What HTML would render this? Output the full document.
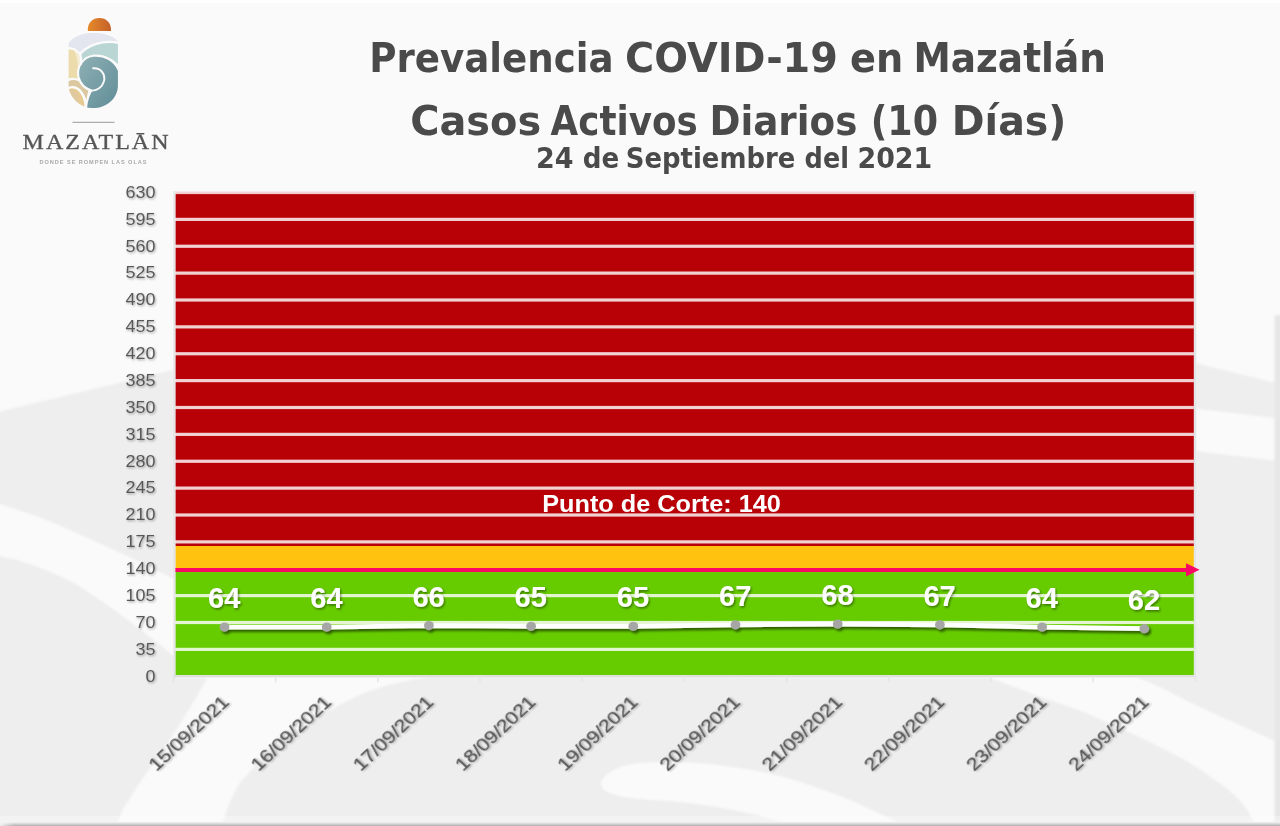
<!DOCTYPE html>
<html lang="es"><head><meta charset="utf-8"><title>Prevalencia COVID-19 en Mazatlán</title>
<style>html,body{margin:0;padding:0;background:#fafafa;overflow:hidden}svg{display:block}text{font-family:"Liberation Sans",sans-serif}.tt text{font-family:"DejaVu Sans","Liberation Sans",sans-serif}</style></head><body>
<svg width="1280" height="826" viewBox="0 0 1280 826">
<defs>
<filter id="ts" x="-20%" y="-20%" width="140%" height="160%"><feDropShadow dx="1" dy="1.2" stdDeviation="0.9" flood-color="#000" flood-opacity="0.35"/></filter>
<filter id="ls" x="-5%" y="-300%" width="110%" height="700%"><feDropShadow dx="2" dy="2.5" stdDeviation="1.3" flood-color="#000" flood-opacity="0.55"/></filter>
<filter id="ws" x="-20%" y="-20%" width="140%" height="160%"><feDropShadow dx="1.2" dy="1.5" stdDeviation="1" flood-color="#000" flood-opacity="0.45"/></filter>
<filter id="bgb" filterUnits="userSpaceOnUse" x="-40" y="-40" width="1360" height="906"><feGaussianBlur stdDeviation="1.3"/></filter>
<filter id="bl"><feGaussianBlur stdDeviation="1.2"/></filter>
<linearGradient id="gsea" x1="0" y1="0" x2="1" y2="1"><stop offset="0" stop-color="#8fb0b5"/><stop offset="1" stop-color="#5f8c96"/></linearGradient>
<linearGradient id="gsun" x1="0" y1="0" x2="1" y2="0"><stop offset="0" stop-color="#e58a2a"/><stop offset="1" stop-color="#c4602a"/></linearGradient>
</defs>
<rect width="1280" height="826" fill="#fafafa"/>
<g filter="url(#bgb)"><path d="M-30 418.8 L176 369 L176 580 C150 567 125 555 106.5 546.6 C85 537 65 528 53 522.6 C35 515 15 509 -30 495 Z" fill="#eeeeee"/>
<path d="M-30 551 L0 556 C30 562 60 575 80 586.5 C110 606 140 628 176 658 L176 678 L207 678 C200 692 190 708 179 725.6 C170 740 160 755 150 768 C140 782 130 798 123 809 L104 856 L-30 856 Z" fill="#eeeeee"/>
<path d="M431 677 C410 679 385 685 362 694 C335 706 300 728 280 742 C262 758 250 772 242 780 C232 795 225 810 214 856 L1262 856 L1255 826 C1253 820 1250 815 1247.5 810 C1240 800 1232 792 1222.5 785 C1210 776 1198 768 1185 760 C1168 751 1152 743 1135 735 C1118 727 1100 719 1085 712.5 C1068 706 1050 700 1035 695 C1020 689 1005 683 990 678 Z" fill="#eeeeee"/>
<path d="M601 783 C605 772 620 765 640 763 C665 761 690 762 710 764 C735 767 760 771 780 776 C805 783 830 792 850 800 C868 808 885 816 897 822 L897 826 L790 826 C780 821 760 815 728 809 C705 805 690 803 681 802 C660 800 640 800 625 797 C610 794 600 790 601 783 Z" fill="#fafafa"/>
<path d="M1135 677 L1195 677 L1195 451 L1310 465 L1310 757 C1295 750 1285 745 1272.5 740 C1255 732 1240 725 1222.5 717.5 C1210 712 1198 706 1185 700 C1172 693 1160 687 1150 682.5 Z" fill="#eeeeee"/>
<path d="M1195 363 L1274.5 382.5 L1274.5 418 L1195 408.6 Z" fill="#eeeeee"/>
<rect x="1274.5" y="315" width="36" height="571" fill="#e7e7e7"/></g>
<rect x="175.4" y="191.5" width="1018.5" height="354.5" fill="#b80007"/>
<rect x="175.4" y="546" width="1018.5" height="23" fill="#ffc20e"/>
<rect x="175.4" y="571" width="1018.5" height="104.0" fill="#66cc00"/>
<rect x="174.4" y="190.90" width="1019.5000000000001" height="3.2" fill="#fff" fill-opacity="0.82"/>
<rect x="174.4" y="217.78" width="1019.5000000000001" height="3.2" fill="#fff" fill-opacity="0.82"/>
<rect x="174.4" y="244.65" width="1019.5000000000001" height="3.2" fill="#fff" fill-opacity="0.82"/>
<rect x="174.4" y="271.52" width="1019.5000000000001" height="3.2" fill="#fff" fill-opacity="0.82"/>
<rect x="174.4" y="298.40" width="1019.5000000000001" height="3.2" fill="#fff" fill-opacity="0.82"/>
<rect x="174.4" y="325.27" width="1019.5000000000001" height="3.2" fill="#fff" fill-opacity="0.82"/>
<rect x="174.4" y="352.15" width="1019.5000000000001" height="3.2" fill="#fff" fill-opacity="0.82"/>
<rect x="174.4" y="379.02" width="1019.5000000000001" height="3.2" fill="#fff" fill-opacity="0.82"/>
<rect x="174.4" y="405.90" width="1019.5000000000001" height="3.2" fill="#fff" fill-opacity="0.82"/>
<rect x="174.4" y="432.77" width="1019.5000000000001" height="3.2" fill="#fff" fill-opacity="0.82"/>
<rect x="174.4" y="459.65" width="1019.5000000000001" height="3.2" fill="#fff" fill-opacity="0.82"/>
<rect x="174.4" y="486.52" width="1019.5000000000001" height="3.2" fill="#fff" fill-opacity="0.82"/>
<rect x="174.4" y="513.40" width="1019.5000000000001" height="3.2" fill="#fff" fill-opacity="0.82"/>
<rect x="174.4" y="540.27" width="1019.5000000000001" height="3.2" fill="#fff" fill-opacity="0.82"/>
<rect x="174.4" y="594.02" width="1019.5000000000001" height="3.2" fill="#fff" fill-opacity="0.82"/>
<rect x="174.4" y="620.90" width="1019.5000000000001" height="3.2" fill="#fff" fill-opacity="0.82"/>
<rect x="174.4" y="647.77" width="1019.5000000000001" height="3.2" fill="#fff" fill-opacity="0.82"/>
<rect x="173.4" y="191.0" width="2" height="486.75" fill="#e4e4e4"/>
<rect x="173.4" y="675.25" width="1021.5000000000001" height="2" fill="#dcdcdc"/>
<rect x="1193.9" y="191.0" width="2.4" height="486.75" fill="#e3e6e6"/>
<rect x="172.60" y="676.25" width="1.6" height="6" fill="#e6e6e6"/>
<rect x="274.80" y="676.25" width="1.6" height="6" fill="#e6e6e6"/>
<rect x="377.00" y="676.25" width="1.6" height="6" fill="#e6e6e6"/>
<rect x="479.20" y="676.25" width="1.6" height="6" fill="#e6e6e6"/>
<rect x="581.40" y="676.25" width="1.6" height="6" fill="#e6e6e6"/>
<rect x="683.60" y="676.25" width="1.6" height="6" fill="#e6e6e6"/>
<rect x="785.80" y="676.25" width="1.6" height="6" fill="#e6e6e6"/>
<rect x="888.00" y="676.25" width="1.6" height="6" fill="#e6e6e6"/>
<rect x="990.20" y="676.25" width="1.6" height="6" fill="#e6e6e6"/>
<rect x="1092.40" y="676.25" width="1.6" height="6" fill="#e6e6e6"/>
<rect x="1194.60" y="676.25" width="1.6" height="6" fill="#e6e6e6"/>
<rect x="175.4" y="568" width="1012.6" height="4" fill="#fb0766"/>
<path d="M1186 563.2 L1199.6 569.8 L1186 576.4 Z" fill="#fb0766"/>
<text x="155.4" y="197.80" text-anchor="end" font-size="16.7" fill="#595959" filter="url(#ts)" textLength="30" lengthAdjust="spacingAndGlyphs">630</text>
<text x="155.4" y="224.68" text-anchor="end" font-size="16.7" fill="#595959" filter="url(#ts)" textLength="30" lengthAdjust="spacingAndGlyphs">595</text>
<text x="155.4" y="251.55" text-anchor="end" font-size="16.7" fill="#595959" filter="url(#ts)" textLength="30" lengthAdjust="spacingAndGlyphs">560</text>
<text x="155.4" y="278.43" text-anchor="end" font-size="16.7" fill="#595959" filter="url(#ts)" textLength="30" lengthAdjust="spacingAndGlyphs">525</text>
<text x="155.4" y="305.30" text-anchor="end" font-size="16.7" fill="#595959" filter="url(#ts)" textLength="30" lengthAdjust="spacingAndGlyphs">490</text>
<text x="155.4" y="332.18" text-anchor="end" font-size="16.7" fill="#595959" filter="url(#ts)" textLength="30" lengthAdjust="spacingAndGlyphs">455</text>
<text x="155.4" y="359.05" text-anchor="end" font-size="16.7" fill="#595959" filter="url(#ts)" textLength="30" lengthAdjust="spacingAndGlyphs">420</text>
<text x="155.4" y="385.93" text-anchor="end" font-size="16.7" fill="#595959" filter="url(#ts)" textLength="30" lengthAdjust="spacingAndGlyphs">385</text>
<text x="155.4" y="412.80" text-anchor="end" font-size="16.7" fill="#595959" filter="url(#ts)" textLength="30" lengthAdjust="spacingAndGlyphs">350</text>
<text x="155.4" y="439.68" text-anchor="end" font-size="16.7" fill="#595959" filter="url(#ts)" textLength="30" lengthAdjust="spacingAndGlyphs">315</text>
<text x="155.4" y="466.55" text-anchor="end" font-size="16.7" fill="#595959" filter="url(#ts)" textLength="30" lengthAdjust="spacingAndGlyphs">280</text>
<text x="155.4" y="493.43" text-anchor="end" font-size="16.7" fill="#595959" filter="url(#ts)" textLength="30" lengthAdjust="spacingAndGlyphs">245</text>
<text x="155.4" y="520.30" text-anchor="end" font-size="16.7" fill="#595959" filter="url(#ts)" textLength="30" lengthAdjust="spacingAndGlyphs">210</text>
<text x="155.4" y="547.17" text-anchor="end" font-size="16.7" fill="#595959" filter="url(#ts)" textLength="30" lengthAdjust="spacingAndGlyphs">175</text>
<text x="155.4" y="574.05" text-anchor="end" font-size="16.7" fill="#595959" filter="url(#ts)" textLength="30" lengthAdjust="spacingAndGlyphs">140</text>
<text x="155.4" y="600.92" text-anchor="end" font-size="16.7" fill="#595959" filter="url(#ts)" textLength="30" lengthAdjust="spacingAndGlyphs">105</text>
<text x="155.4" y="627.80" text-anchor="end" font-size="16.7" fill="#595959" filter="url(#ts)" textLength="20" lengthAdjust="spacingAndGlyphs">70</text>
<text x="155.4" y="654.67" text-anchor="end" font-size="16.7" fill="#595959" filter="url(#ts)" textLength="20" lengthAdjust="spacingAndGlyphs">35</text>
<text x="155.4" y="681.55" text-anchor="end" font-size="16.7" fill="#595959" filter="url(#ts)" textLength="10" lengthAdjust="spacingAndGlyphs">0</text>
<text transform="translate(230.30 703.3) scale(1.037 0.965) rotate(-45)" x="0" y="0" text-anchor="end" font-size="17.6" fill="#565656" stroke="#565656" stroke-width="0.2" filter="url(#ts)" textLength="100.5" lengthAdjust="spacingAndGlyphs">15/09/2021</text>
<text transform="translate(332.50 703.3) scale(1.037 0.965) rotate(-45)" x="0" y="0" text-anchor="end" font-size="17.6" fill="#565656" stroke="#565656" stroke-width="0.2" filter="url(#ts)" textLength="100.5" lengthAdjust="spacingAndGlyphs">16/09/2021</text>
<text transform="translate(434.70 703.3) scale(1.037 0.965) rotate(-45)" x="0" y="0" text-anchor="end" font-size="17.6" fill="#565656" stroke="#565656" stroke-width="0.2" filter="url(#ts)" textLength="100.5" lengthAdjust="spacingAndGlyphs">17/09/2021</text>
<text transform="translate(536.90 703.3) scale(1.037 0.965) rotate(-45)" x="0" y="0" text-anchor="end" font-size="17.6" fill="#565656" stroke="#565656" stroke-width="0.2" filter="url(#ts)" textLength="100.5" lengthAdjust="spacingAndGlyphs">18/09/2021</text>
<text transform="translate(639.10 703.3) scale(1.037 0.965) rotate(-45)" x="0" y="0" text-anchor="end" font-size="17.6" fill="#565656" stroke="#565656" stroke-width="0.2" filter="url(#ts)" textLength="100.5" lengthAdjust="spacingAndGlyphs">19/09/2021</text>
<text transform="translate(741.30 703.3) scale(1.037 0.965) rotate(-45)" x="0" y="0" text-anchor="end" font-size="17.6" fill="#565656" stroke="#565656" stroke-width="0.2" filter="url(#ts)" textLength="100.5" lengthAdjust="spacingAndGlyphs">20/09/2021</text>
<text transform="translate(843.50 703.3) scale(1.037 0.965) rotate(-45)" x="0" y="0" text-anchor="end" font-size="17.6" fill="#565656" stroke="#565656" stroke-width="0.2" filter="url(#ts)" textLength="100.5" lengthAdjust="spacingAndGlyphs">21/09/2021</text>
<text transform="translate(945.70 703.3) scale(1.037 0.965) rotate(-45)" x="0" y="0" text-anchor="end" font-size="17.6" fill="#565656" stroke="#565656" stroke-width="0.2" filter="url(#ts)" textLength="100.5" lengthAdjust="spacingAndGlyphs">22/09/2021</text>
<text transform="translate(1047.90 703.3) scale(1.037 0.965) rotate(-45)" x="0" y="0" text-anchor="end" font-size="17.6" fill="#565656" stroke="#565656" stroke-width="0.2" filter="url(#ts)" textLength="100.5" lengthAdjust="spacingAndGlyphs">23/09/2021</text>
<text transform="translate(1150.10 703.3) scale(1.037 0.965) rotate(-45)" x="0" y="0" text-anchor="end" font-size="17.6" fill="#565656" stroke="#565656" stroke-width="0.2" filter="url(#ts)" textLength="100.5" lengthAdjust="spacingAndGlyphs">24/09/2021</text>
<g filter="url(#ls)"><polyline points="224.50,627.11 326.70,627.11 428.90,625.57 531.10,626.34 633.30,626.34 735.50,624.80 837.70,624.04 939.90,624.80 1042.10,627.11 1144.30,628.64" fill="none" stroke="#fff" stroke-width="4.8" stroke-linejoin="round" stroke-linecap="round"/>
<ellipse cx="224.50" cy="627.11" rx="4.9" ry="4.6" fill="#a6a6a6"/>
<ellipse cx="326.70" cy="627.11" rx="4.9" ry="4.6" fill="#a6a6a6"/>
<ellipse cx="428.90" cy="625.57" rx="4.9" ry="4.6" fill="#a6a6a6"/>
<ellipse cx="531.10" cy="626.34" rx="4.9" ry="4.6" fill="#a6a6a6"/>
<ellipse cx="633.30" cy="626.34" rx="4.9" ry="4.6" fill="#a6a6a6"/>
<ellipse cx="735.50" cy="624.80" rx="4.9" ry="4.6" fill="#a6a6a6"/>
<ellipse cx="837.70" cy="624.04" rx="4.9" ry="4.6" fill="#a6a6a6"/>
<ellipse cx="939.90" cy="624.80" rx="4.9" ry="4.6" fill="#a6a6a6"/>
<ellipse cx="1042.10" cy="627.11" rx="4.9" ry="4.6" fill="#a6a6a6"/>
<ellipse cx="1144.30" cy="628.64" rx="4.9" ry="4.6" fill="#a6a6a6"/>
</g>
<text x="224.20" y="608.11" text-anchor="middle" font-size="28.6" font-weight="bold" fill="#fff" filter="url(#ws)" textLength="32.4" lengthAdjust="spacingAndGlyphs">64</text>
<text x="326.40" y="608.11" text-anchor="middle" font-size="28.6" font-weight="bold" fill="#fff" filter="url(#ws)" textLength="32.4" lengthAdjust="spacingAndGlyphs">64</text>
<text x="428.60" y="606.57" text-anchor="middle" font-size="28.6" font-weight="bold" fill="#fff" filter="url(#ws)" textLength="32.4" lengthAdjust="spacingAndGlyphs">66</text>
<text x="530.80" y="607.34" text-anchor="middle" font-size="28.6" font-weight="bold" fill="#fff" filter="url(#ws)" textLength="32.4" lengthAdjust="spacingAndGlyphs">65</text>
<text x="633.00" y="607.34" text-anchor="middle" font-size="28.6" font-weight="bold" fill="#fff" filter="url(#ws)" textLength="32.4" lengthAdjust="spacingAndGlyphs">65</text>
<text x="735.20" y="605.80" text-anchor="middle" font-size="28.6" font-weight="bold" fill="#fff" filter="url(#ws)" textLength="32.4" lengthAdjust="spacingAndGlyphs">67</text>
<text x="837.40" y="605.04" text-anchor="middle" font-size="28.6" font-weight="bold" fill="#fff" filter="url(#ws)" textLength="32.4" lengthAdjust="spacingAndGlyphs">68</text>
<text x="939.60" y="605.80" text-anchor="middle" font-size="28.6" font-weight="bold" fill="#fff" filter="url(#ws)" textLength="32.4" lengthAdjust="spacingAndGlyphs">67</text>
<text x="1041.80" y="608.11" text-anchor="middle" font-size="28.6" font-weight="bold" fill="#fff" filter="url(#ws)" textLength="32.4" lengthAdjust="spacingAndGlyphs">64</text>
<text x="1144.00" y="609.64" text-anchor="middle" font-size="28.6" font-weight="bold" fill="#fff" filter="url(#ws)" textLength="32.4" lengthAdjust="spacingAndGlyphs">62</text>
<text x="542.2" y="511.6" font-size="23.8" font-weight="bold" fill="#fff" textLength="238.7" lengthAdjust="spacingAndGlyphs">Punto de Corte: 140</text>
<g class="tt" fill="#4a4a4a" font-weight="bold">
<text y="72" font-size="41.3"><tspan x="369.2" textLength="244.34" lengthAdjust="spacingAndGlyphs">Prevalencia</tspan> <tspan x="625.08" textLength="212.82" lengthAdjust="spacingAndGlyphs">COVID-19</tspan> <tspan x="849.94" textLength="53.22" lengthAdjust="spacingAndGlyphs">en</tspan> <tspan x="913.56" textLength="192.26" lengthAdjust="spacingAndGlyphs">Mazatlán</tspan></text>
<text y="134.8" font-size="41.3"><tspan x="410.16" textLength="130.97" lengthAdjust="spacingAndGlyphs">Casos</tspan> <tspan x="550.62" textLength="147.17" lengthAdjust="spacingAndGlyphs">Activos</tspan> <tspan x="709.42" textLength="148.01" lengthAdjust="spacingAndGlyphs">Diarios</tspan> <tspan x="870.7" textLength="67.43" lengthAdjust="spacingAndGlyphs">(10</tspan> <tspan x="951.84" textLength="114.54" lengthAdjust="spacingAndGlyphs">Días)</tspan></text>
<text y="167.7" font-size="28.3"><tspan x="535.94" textLength="37.52" lengthAdjust="spacingAndGlyphs">24</tspan> <tspan x="582.74" textLength="36.51" lengthAdjust="spacingAndGlyphs">de</tspan> <tspan x="625.8" textLength="169.58" lengthAdjust="spacingAndGlyphs">Septiembre</tspan> <tspan x="804.6" textLength="44.41" lengthAdjust="spacingAndGlyphs">del</tspan> <tspan x="857.44" textLength="74.88" lengthAdjust="spacingAndGlyphs">2021</tspan></text>
</g>
<g transform="translate(55 10) scale(0.127186)">
<path d="M258 165 L258 150 C258 100 298 62 349 62 C400 62 440 100 440 150 L440 165 Z" fill="url(#gsun)"/>
<clipPath id="body"><path d="M105 262 C150 200 230 180 300 180 C380 180 450 200 495 245 L495 590 C495 700 400 772 300 772 C250 772 200 750 165 715 C125 675 105 630 105 580 Z"/></clipPath>
<g clip-path="url(#body)">
<path d="M95 170 H505 V262 C470 248 420 244 370 250 C300 262 240 290 195 335 L150 300 L95 290 Z" fill="#e3e6ee"/>
<path d="M207 345 C250 300 310 270 375 260 C420 254 465 256 505 266 V440 C470 390 410 360 335 360 C285 360 240 380 212 410 Z" fill="#b9d6d5"/>
<path d="M95 300 L150 310 L196 345 C200 370 203 390 205 425 C185 455 178 500 186 545 C160 535 125 535 95 545 Z" fill="#ecdcab"/>
<path d="M150 315 L196 347 C200 372 203 392 204 424 C192 440 185 462 182 480 C180 420 170 360 150 315 Z" fill="#f3ead0"/>
<path d="M95 560 C130 545 165 545 190 560 C200 590 225 615 262 635 C255 660 250 690 248 715 C235 660 200 610 150 600 C130 597 110 600 95 610 Z" fill="#dcc8a0"/>
<path d="M95 625 C120 610 155 612 180 632 C215 660 235 710 238 770 L95 770 Z" fill="#e6ca92"/>
<path d="M95 640 C115 625 150 628 168 650 C185 672 190 700 185 730 L95 760 Z" fill="#dfc9a0"/>
<path d="M245 760 C255 700 265 665 282 632 C240 615 200 575 186 525 C172 450 215 375 300 362 C390 350 470 400 500 480 L505 480 V780 H245 Z" fill="url(#gsea)"/>
</g>
<g fill="none" stroke="#fafafa" stroke-width="17" stroke-linecap="round" stroke-linejoin="round">
<path d="M105 300 L150 308 L197 343 C245 295 310 265 375 255 C420 249 465 250 500 260"/>
<path d="M197 343 C202 375 205 400 205 425"/>
<path d="M500 470 C465 395 390 352 300 360 C215 372 170 450 184 525 C198 580 240 618 285 633 C262 670 250 710 244 765"/>
<path d="M100 552 C130 538 165 540 188 552"/>
<path d="M100 618 C130 600 165 604 190 628 C222 660 238 710 242 765"/>
<path d="M285 633 C330 640 372 605 385 560 C398 505 360 452 300 458" stroke-width="15"/>
</g>
</g>
<rect x="72.5" y="121.8" width="42" height="1" fill="#9a9a9a"/>
<text transform="translate(22.6 148.8) scale(1.2 1)" x="0" y="0" font-size="20" fill="#555555" stroke="#555555" stroke-width="0.3" style="font-family:'Liberation Serif',serif" textLength="121.6" lengthAdjust="spacing">MAZATLĀN</text>
<text x="39.5" y="164.2" font-size="5.6" fill="#a9a9a9" font-weight="bold" textLength="107" lengthAdjust="spacing">DONDE SE ROMPEN LAS OLAS</text>
<rect x="0" y="0" width="1280" height="3" fill="#ffffff"/>
<defs><linearGradient id="gb" x1="0" y1="0" x2="0" y2="1"><stop offset="0" stop-color="#f6f6f6"/><stop offset="0.35" stop-color="#e2e2e2"/><stop offset="1" stop-color="#b0b0b0"/></linearGradient></defs>
<rect x="0" y="816" width="1280" height="6" fill="#ffffff" fill-opacity="0.3"/>
<rect x="0" y="821.6" width="1280" height="4.4" fill="url(#gb)"/>
<defs><linearGradient id="gl" x1="0" y1="0" x2="1" y2="0"><stop offset="0" stop-color="#f4f4f4" stop-opacity="0.9"/><stop offset="1" stop-color="#f4f4f4" stop-opacity="0"/></linearGradient></defs>
<rect x="0" y="821" width="14" height="5" fill="url(#gl)"/>
</svg></body></html>
